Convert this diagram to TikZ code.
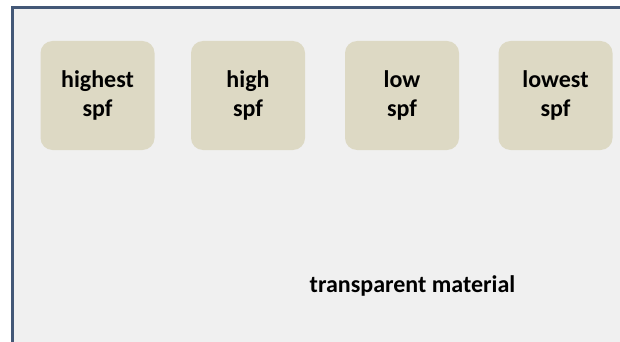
\documentclass[tikz,border=0pt]{standalone}
\usepackage{fontspec}
\setmainfont{Carlito}
\usetikzlibrary{positioning}

\definecolor{panelfill}{HTML}{F0F0F0}
\definecolor{panelline}{HTML}{435877}
\definecolor{spffill}{HTML}{DDD9C4}

\tikzset{
  spfbox/.style={fill=spffill, rounded corners=12pt, minimum width=114pt,
    minimum height=109pt, align=center, inner sep=0pt,
    font=\fontsize{24}{29}\selectfont\bfseries},
  matlabel/.style={font=\fontsize{24}{29}\selectfont\bfseries, inner sep=0pt}
}

\begin{document}
\begin{tikzpicture}[x=1pt,y=-1pt]
	\useasboundingbox (0,0) rectangle (620,342);
	\fill[white] (0,0) rectangle (620,342);
	% transparent material
	\draw[panelline, line width=3pt, fill=panelfill] (12,8) rectangle (640,360);
	% boxes
	\node[spfbox] (highest) at (97.5,95.5) {highest\\spf};
	\node[spfbox] (high) at (248,95.5) {high\\spf};
	\node[spfbox] (low) at (402,95.5) {low\\spf};
	\node[spfbox] (lowest) at (555.5,95.5) {lowest\\spf};
	\node[matlabel, anchor=base] (material) at (412.5,292) {transparent material};
\end{tikzpicture}
\end{document}
